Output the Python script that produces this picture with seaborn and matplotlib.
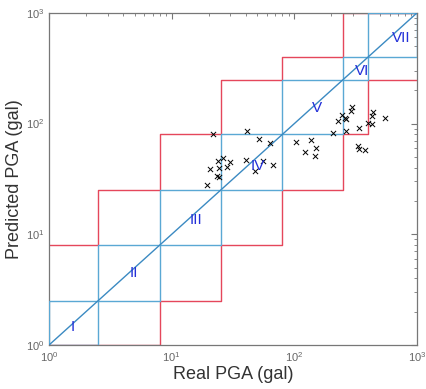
import numpy as np
import pandas as pd
import matplotlib
matplotlib.use("Agg")
import matplotlib.pyplot as plt
import seaborn as sns

# intensity class boundaries (gal)
bounds = [1, 2.5, 8, 25, 80, 250, 400, 1000]
classes = ["I", "II", "III", "IV", "V", "VI", "VII"]
label_x = [1.56, 4.9, 15.8, 50, 154, 356, 750]
label_y = [1.46, 4.5, 13.5, 41.7, 137, 298, 590]

# real vs predicted PGA
real_pga = [21.8, 40.8, 51.8, 63.2, 24.0, 26.3, 29.9, 20.5, 24.3, 28.1,
            23.5, 24.2, 19.3, 40.3, 55.8, 67.3, 47.7,
            104, 136, 121, 150, 147,
            296, 289, 246, 260, 266, 227, 206, 265, 334, 437, 431, 545,
            398, 429, 330, 334, 378]
pred_pga = [80.0, 85.7, 73.1, 67.2, 45.9, 48.6, 45.0, 39.2, 39.7, 40.5,
            33.6, 32.7, 27.7, 46.9, 46.2, 42.0, 37.3,
            67.8, 71.1, 55.4, 59.8, 51.0,
            142, 131, 120, 112, 110, 106, 82.8, 85.7, 90.7, 126, 118, 113,
            101, 100, 63.1, 58.6, 57.8]

df = pd.DataFrame({"real": real_pga, "pred": pred_pga})

sns.set_style("white")
plt.rcParams["font.family"] = ["Liberation Sans", "DejaVu Sans"]

fig = plt.figure(figsize=(4.26, 3.89), dpi=100)
ax = fig.add_axes([0.115, 0.113, 0.864, 0.854])

red = "#e5475b"
blue = "#5aa8d4"
n = len(bounds) - 1

# red tolerance staircase (+/- one class)
ux, uy, lx, ly = [], [], [], []
for i in range(n):
    up = bounds[min(i + 2, n)]
    lo = bounds[max(i - 1, 0)]
    ux += [bounds[i], bounds[i + 1]]
    uy += [up, up]
    lx += [bounds[i], bounds[i + 1]]
    ly += [lo, lo]
ax.plot(ux, uy, color=red, lw=1.0, zorder=2)
ax.plot(lx, ly, color=red, lw=1.0, zorder=2)

# blue class squares
for i in range(n):
    a, b = bounds[i], bounds[i + 1]
    ax.plot([a, b, b, a, a], [a, a, b, b, a], color=blue, lw=1.0, zorder=3)

# 1:1 line
ax.plot([bounds[0], bounds[-1]], [bounds[0], bounds[-1]], color="#3b8ac2", lw=1.0, zorder=3)

sns.scatterplot(data=df, x="real", y="pred", marker="x", color="black",
                s=14, linewidth=0.7, ax=ax, zorder=4)

for c, x, y in zip(classes, label_x, label_y):
    ax.text(x, y, c, color="#2330d8", fontsize=11, ha="center", va="center", zorder=5)

ax.set_xscale("log")
ax.set_yscale("log")
ax.set_xlim(1, 1000)
ax.set_ylim(1, 1000)
ax.set_xlabel("Real PGA (gal)", fontsize=13, color="#333333", labelpad=2)
ax.set_ylabel("Predicted PGA (gal)", fontsize=13, color="#333333", labelpad=2)
ax.tick_params(which="both", direction="in", top=True, right=True, colors="#777777",
               labelsize=8, labelcolor="#666666")
ax.tick_params(which="major", length=4)
ax.tick_params(which="minor", length=2)
for s in ax.spines.values():
    s.set_color("#777777")
    s.set_linewidth(0.9)

fig.savefig("out.png", dpi=100)
